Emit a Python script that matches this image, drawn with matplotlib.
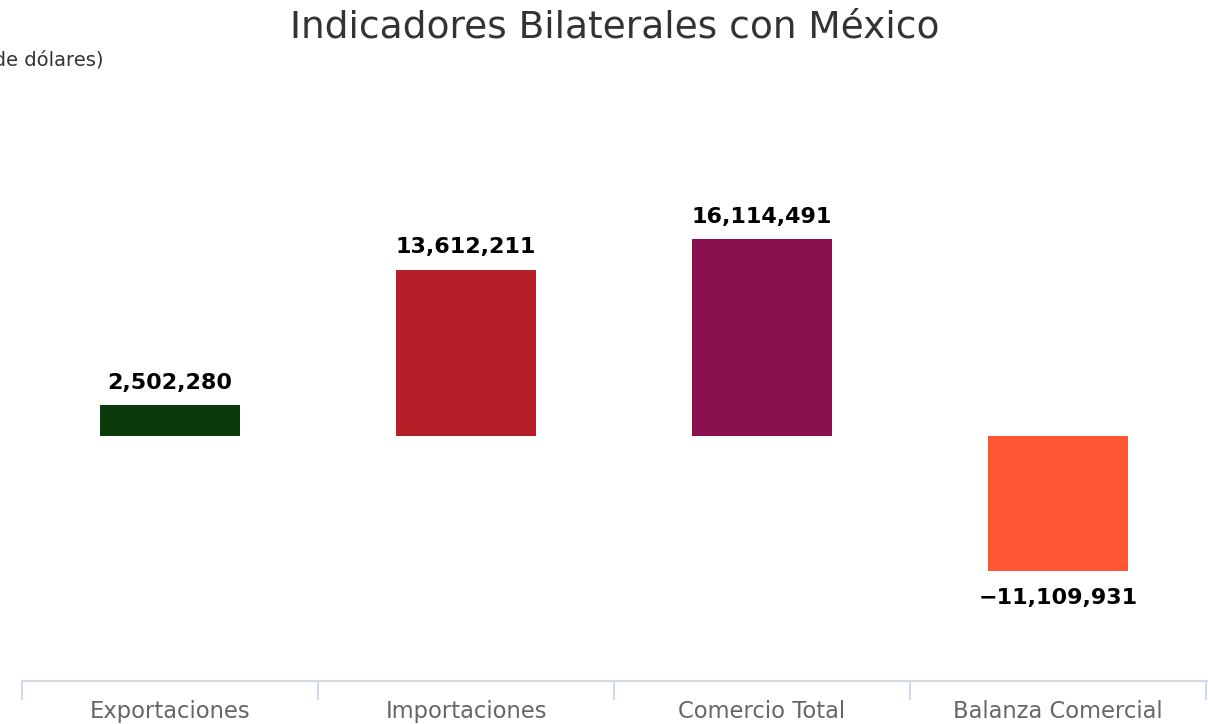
import matplotlib
matplotlib.use("Agg")
import matplotlib.pyplot as plt

categories = ["Exportaciones", "Importaciones", "Comercio Total", "Balanza Comercial"]
values = [2502280, 13612211, 16114491, -11109931]
colors = ["#0b3a0c", "#b71f28", "#8a0f4f", "#ff5733"]
value_labels = ["2,502,280", "13,612,211", "16,114,491", "\u221211,109,931"]

fig = plt.figure(figsize=(12.08, 7.24), dpi=100)
ax = fig.add_axes([22 / 1208, 43 / 724, 1186 / 1208, 581 / 724])

x = range(len(categories))
bars = ax.bar(x, values, width=0.473, color=colors)

for xi, v, lab in zip(x, values, value_labels):
    if v >= 0:
        ax.annotate(lab, (xi, v), xytext=(0, 16), textcoords="offset points",
                    ha="center", va="center", fontsize=16, fontweight="bold", color="black")
    else:
        ax.annotate(lab, (xi, v), xytext=(0, -19), textcoords="offset points",
                    ha="center", va="center", fontsize=16, fontweight="bold", color="black")

ax.set_xlim(-0.5, 3.5 + 2 / 296)
ax.set_ylim(-20.1e6, 47.6e6 - 20.1e6)

ax.set_xticks(list(x))
ax.set_xticklabels(categories, fontsize=16.3, color="#666666")
ax.tick_params(axis="x", which="major", length=0, pad=14)
ax.set_xticks([-0.5, 0.5, 1.5, 2.5, 3.5], minor=True)
ax.tick_params(axis="x", which="minor", length=14, width=1.3, color="#ccd6eb")
ax.set_yticks([])

for s in ["top", "right", "left"]:
    ax.spines[s].set_visible(False)
ax.spines["bottom"].set_color("#ccd6eb")
ax.spines["bottom"].set_linewidth(1.3)

fig.text(615 / 1208, 1 - 27 / 724, "Indicadores Bilaterales con México", ha="center", va="center",
         fontsize=27, color="#333333")
fig.text(104 / 1208, 1 - 60 / 724, "(Miles de dólares)", ha="right", va="center",
         fontsize=14, color="#333333")

fig.savefig("out.png", dpi=100)
